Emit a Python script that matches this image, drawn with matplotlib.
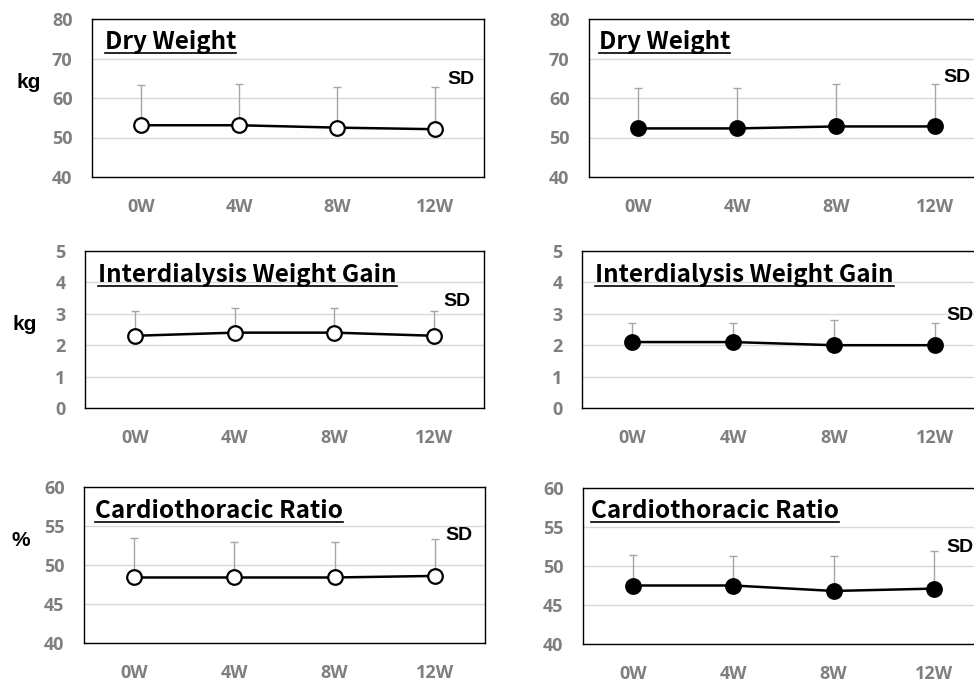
import numpy as np
import matplotlib
matplotlib.use("Agg")
import matplotlib.pyplot as plt
from matplotlib.lines import Line2D

W, H = 974, 682

weeks = ["0W", "4W", "8W", "12W"]

# group A (open circles, left column)
dw_a = [53.1, 53.1, 52.5, 52.1]
dw_a_sd = [10.1, 10.4, 10.3, 10.7]
idwg_a = [2.3, 2.4, 2.4, 2.3]
idwg_a_sd = [0.8, 0.8, 0.8, 0.8]
ctr_a = [48.4, 48.4, 48.4, 48.6]
ctr_a_sd = [5.0, 4.5, 4.6, 4.7]

# group B (filled circles, right column)
dw_b = [52.3, 52.3, 52.8, 52.8]
dw_b_sd = [10.3, 10.3, 10.7, 10.7]
idwg_b = [2.1, 2.1, 2.0, 2.0]
idwg_b_sd = [0.6, 0.6, 0.8, 0.7]
ctr_b = [47.5, 47.5, 46.8, 47.1]
ctr_b_sd = [3.9, 3.8, 4.5, 4.8]

titles = ["Dry Weight", "Interdialysis Weight Gain", "Cardiothoracic Ratio"]
units = ["kg", "kg", "%"]
y_ranges = [(40, 80, 10), (0, 5, 1), (40, 60, 5)]

TICK_GRAY = "#7f7f7f"
TICK_FONT = "Open Sans"
TITLE_FONT = ["Noto Sans CJK JP", "DejaVu Sans"]
LABEL_FONT = "Liberation Sans"


def px_box(left, top, right, bottom):
    return [left / W, 1 - bottom / H, (right - left) / W, (bottom - top) / H]


def fig_xy(x, y):
    return x / W, 1 - y / H


# panel frames in pixels: left, top, right, bottom
frames = [
    [(92, 19, 484, 177), (589, 19, 984, 177)],
    [(85, 251, 484, 408), (582, 251, 985, 408)],
    [(84, 487, 485, 643), (583, 488, 984, 644)],
]
# title baseline position, SD label position, unit label position
title_pos = [[(105, 49), (599, 49)], [(98, 282), (595, 282)], [(95, 518), (591, 518)]]
sd_pos = [[(447, 80), (943, 77)], [(443, 301), (946, 316)], [(445, 535), (946, 547)]]
unit_pos = [(16, 82), (13, 325), (12, 540)]

data = [
    [(dw_a, dw_a_sd), (dw_b, dw_b_sd)],
    [(idwg_a, idwg_a_sd), (idwg_b, idwg_b_sd)],
    [(ctr_a, ctr_a_sd), (ctr_b, ctr_b_sd)],
]

fig = plt.figure(figsize=(W / 100, H / 100), dpi=100)

title_texts = []
x = np.arange(len(weeks))
for r in range(3):
    lo, hi, step = y_ranges[r]
    for c in range(2):
        vals, sd = data[r][c]
        ax = fig.add_axes(px_box(*frames[r][c]))
        ax.errorbar(x, vals, yerr=[np.zeros(len(sd)), sd], fmt="none",
                    ecolor="#a6a6a6", elinewidth=1.0, capsize=3, capthick=1.0, zorder=2)
        face = "white" if c == 0 else "black"
        ax.plot(x, vals, color="black", lw=1.8, marker="o", ms=10.5,
                mfc=face, mec="black", mew=1.6, zorder=3, clip_on=False)
        ax.set_xlim(-0.5, 3.5)
        ax.set_ylim(lo, hi)
        ax.set_yticks(np.arange(lo, hi + step / 2, step))
        ax.set_xticks(x, weeks)
        ax.yaxis.grid(True, color="#d9d9d9", lw=1.0)
        ax.set_axisbelow(True)
        ax.tick_params(axis="y", length=0, pad=14, labelsize=13, labelcolor=TICK_GRAY)
        ax.tick_params(axis="x", length=0, pad=15, labelsize=13, labelcolor=TICK_GRAY)
        for t in ax.get_xticklabels() + ax.get_yticklabels():
            t.set_fontfamily(TICK_FONT)
            t.set_fontweight("bold")
        for s in ax.spines.values():
            s.set_color("black")
            s.set_linewidth(1.0)

        tx, ty = title_pos[r][c]
        t = fig.text(*fig_xy(tx, ty), titles[r], fontsize=17.5, family=TITLE_FONT,
                     fontweight="bold", va="baseline", ha="left")
        title_texts.append((t, ty))

        sx, sy = sd_pos[r][c]
        fig.text(*fig_xy(sx, sy), "SD", fontsize=14, family=LABEL_FONT,
                 fontweight="bold", va="center", ha="left")

    ux, uy = unit_pos[r]
    fig.text(*fig_xy(ux, uy), units[r], fontsize=15, family=LABEL_FONT,
             fontweight="bold", va="center", ha="left")

# underline the panel titles
fig.canvas.draw()
renderer = fig.canvas.get_renderer()
for t, ty in title_texts:
    bb = t.get_window_extent(renderer)
    uy = ty + 4
    fig.add_artist(Line2D([bb.x0 / W, bb.x1 / W], [1 - uy / H, 1 - uy / H],
                          transform=fig.transFigure, color="black", lw=1.2))

fig.savefig("out.png", dpi=100)
